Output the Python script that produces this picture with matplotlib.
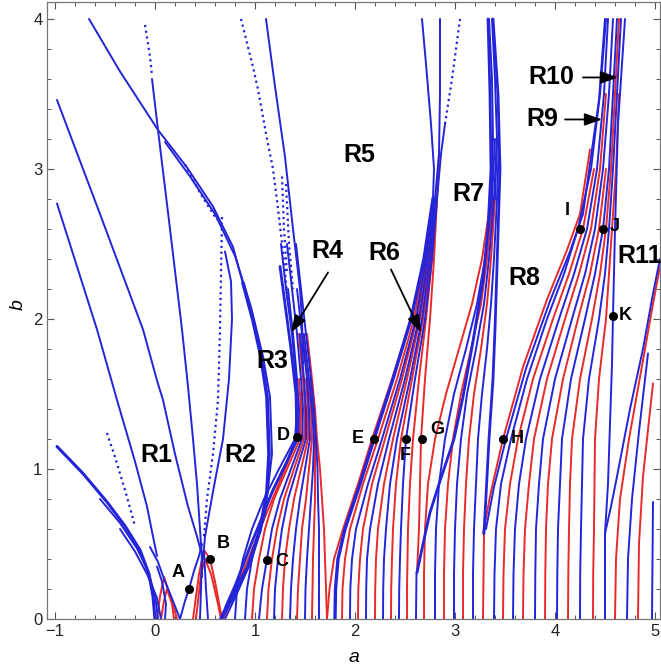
import matplotlib
matplotlib.use("Agg")
import matplotlib.pyplot as plt
from matplotlib.ticker import MultipleLocator

BLUE = "#2424d8"
RED = "#e82a2a"

# ---------------- left cluster (blue branches) ----------------
branch_LL1 = [(-0.98, 3.46), (-0.55, 2.70), (-0.12, 1.93), (0.02, 1.59), (0.08, 1.46),
              (0.20, 1.10), (0.33, 0.75), (0.42, 0.55), (0.46, 0.45)]
branch_LL2 = [(-0.98, 2.77), (-0.58, 1.93), (-0.38, 1.46), (-0.20, 1.05), (-0.08, 0.75),
              (-0.02, 0.55), (0.02, 0.42)]
branch_LL3a = [(-0.98, 1.15), (-0.72, 0.97), (-0.48, 0.78), (-0.30, 0.62), (-0.15, 0.46),
               (-0.06, 0.30), (-0.02, 0.15), (0.0, 0.0)]
branch_LL3b = [(-0.55, 0.80), (-0.35, 0.64), (-0.18, 0.47), (-0.07, 0.32), (0.0, 0.16), (0.03, 0.0)]
branch_LL3c = [(-0.35, 0.60), (-0.20, 0.45), (-0.08, 0.30), (0.02, 0.14), (0.06, 0.0)]
branch_LL_dotted = [(-0.48, 1.24), (-0.40, 1.08), (-0.30, 0.86), (-0.20, 0.62)]
branch_L1_upper = [(0.98, 1.99), (0.78, 2.48), (0.58, 2.75), (0.32, 3.01), (0.03, 3.26),
                   (-0.35, 3.65), (-0.66, 4.0)]
branch_L1_lower = [(0.66, 0.0), (0.78, 0.15), (0.93, 0.35), (1.05, 0.59), (1.12, 0.85),
                   (1.14, 1.10), (1.12, 1.48), (1.06, 1.75), (0.98, 1.99), (0.88, 2.24)]
branch_L1b = [(0.10, 3.18), (0.35, 2.95), (0.60, 2.70), (0.80, 2.42), (0.96, 2.08), (1.08, 1.75),
              (1.15, 1.48), (1.17, 1.10), (1.10, 0.70), (0.97, 0.40), (0.82, 0.17), (0.70, 0.0)]
branch_L1_dotted = [(0.30, 3.03), (0.45, 2.84), (0.62, 2.66)]
branch_L2 = [(-0.03, 3.60), (0.03, 3.26), (0.15, 2.60), (0.27, 1.93), (0.33, 1.55), (0.38, 1.20),
             (0.42, 0.90), (0.45, 0.60), (0.47, 0.40), (0.47, 0.28)]
branch_L2_dotted = [(-0.10, 3.96), (-0.05, 3.75), (-0.03, 3.62)]
branch_L3a = [(0.67, 2.68), (0.66, 2.30), (0.65, 1.93), (0.63, 1.46), (0.58, 1.10), (0.52, 0.80),
              (0.49, 0.55)]
branch_L3b = [(0.70, 2.45), (0.76, 2.25), (0.77, 2.00), (0.74, 1.60), (0.68, 1.20), (0.58, 0.85),
              (0.50, 0.55), (0.48, 0.40)]
branch_VA_right = [(0.25, 0.0), (0.30, 0.12), (0.34, 0.20), (0.39, 0.32), (0.44, 0.42), (0.47, 0.50)]
branch_VA_left = [(0.25, 0.0), (0.18, 0.12), (0.10, 0.25), (0.03, 0.38), (-0.05, 0.48)]
branch_mid_1 = [(0.45, 0.0), (0.46, 0.20), (0.47, 0.45)]
branch_mid_2 = [(0.53, 0.0), (0.51, 0.20), (0.49, 0.45)]
branch_low_1 = [(0.10, 0.0), (0.11, 0.10), (0.07, 0.25), (0.02, 0.35)]

# small red tongues near the origin
tongue_r1 = [(0.02, 0.0), (0.05, 0.15), (0.09, 0.28), (0.14, 0.18), (0.20, 0.05), (0.22, 0.0)]
tongue_r2 = [(0.06, 0.0), (0.09, 0.12), (0.12, 0.20), (0.17, 0.10), (0.19, 0.0)]
tongue_r3 = [(0.38, 0.0), (0.44, 0.30), (0.49, 0.46), (0.55, 0.40), (0.60, 0.25), (0.67, 0.0)]
tongue_r4 = [(0.41, 0.0), (0.46, 0.30), (0.50, 0.40), (0.56, 0.30), (0.63, 0.10), (0.66, 0.0)]

# ---------------- tongue between a=0.67 and a=1.72 ----------------
g3_levels = [0.0, 0.2, 0.4, 0.6, 0.8, 1.0, 1.2, 1.4, 1.6, 1.9, 2.2, 2.5]
g3_blue = [
    [0.80, 0.82, 0.88, 0.97, 1.09, 1.24, 1.40, 1.42, 1.41, 1.37, 1.31, 1.26],
    [0.90, 0.92, 0.97, 1.04, 1.14, 1.28, 1.43, 1.44, 1.42, 1.38, 1.33],
    [1.04, 1.07, 1.12, 1.17, 1.25, 1.36, 1.47, 1.48, 1.46, 1.42, 1.37, 1.32],
    [1.19, 1.20, 1.23, 1.27, 1.33, 1.42, 1.51, 1.51, 1.49, 1.45],
    [1.35, 1.36, 1.38, 1.41, 1.45, 1.50, 1.55, 1.54, 1.52, 1.47, 1.42],
    [1.50, 1.505, 1.52, 1.54, 1.56, 1.58, 1.59, 1.57, 1.54, 1.49],
    [1.64, 1.64, 1.64, 1.64, 1.63, 1.625, 1.61, 1.59, 1.56, 1.51, 1.46, 1.41],
]
g3_red = [
    [0.97, 0.99, 1.04, 1.10, 1.19, 1.32, 1.45, 1.46, 1.44],
    [1.12, 1.135, 1.17, 1.22, 1.29, 1.39, 1.49, 1.50, 1.48, 1.44],
    [1.27, 1.28, 1.30, 1.34, 1.39, 1.46, 1.53, 1.53, 1.51],
    [1.42, 1.43, 1.45, 1.47, 1.51, 1.54, 1.57, 1.56, 1.53, 1.48],
    [1.57, 1.575, 1.58, 1.59, 1.60, 1.60, 1.60, 1.58, 1.55],
    [1.72, 1.71, 1.70, 1.69, 1.67, 1.65, 1.62, 1.60, 1.57, 1.52],
]
edge_E3_blue = [(0.66, 0.0), (0.72, 0.10), (0.80, 0.22), (0.95, 0.48), (1.06, 0.66), (1.18, 0.86),
                (1.32, 1.05), (1.42, 1.21), (1.41, 1.50), (1.36, 1.80), (1.30, 2.10), (1.25, 2.35)]
edge_E3_red = [(0.68, 0.0), (0.76, 0.12), (0.92, 0.38), (1.10, 0.68), (1.30, 1.00), (1.45, 1.25),
               (1.46, 1.50)]
top_T3a = [(1.11, 4.0), (1.20, 3.55), (1.30, 3.08), (1.38, 2.60), (1.45, 2.20), (1.47, 2.00),
           (1.48, 1.70)]
top_T3b = [(0.86, 4.0), (0.98, 3.68), (1.03, 3.53), (1.12, 3.20), (1.18, 3.00), (1.22, 2.79),
           (1.28, 2.45), (1.33, 2.10)]
top_T3c = [(1.27, 2.95), (1.29, 2.60), (1.32, 2.30)]
top_T3d = [(1.31, 2.90), (1.34, 2.50), (1.38, 2.20)]

# ---------------- tongue between a=1.72 and a=2.62 ----------------
g4_levels = [0.0, 0.2, 0.4, 0.6, 0.9, 1.2, 1.6, 2.0, 2.4, 2.8]
g4_red = [
    [1.72, 1.745, 1.79, 1.88, 2.03, 2.17, 2.37, 2.56, 2.69, 2.78],
    [1.87, 1.875, 1.90, 1.95, 2.08, 2.23, 2.42, 2.59, 2.70, 2.78],
    [2.03, 2.033, 2.05, 2.08, 2.17, 2.30, 2.47, 2.62, 2.72, 2.79],
    [2.20, 2.202, 2.21, 2.23, 2.29, 2.38, 2.52, 2.65, 2.74, 2.80],
    [2.36, 2.362, 2.37, 2.38, 2.41, 2.46, 2.57, 2.68, 2.76, 2.81],
    [2.52, 2.52, 2.525, 2.53, 2.55, 2.58, 2.64, 2.71, 2.77, 2.82],
]
g4_envelope_blue = [1.80, 1.805, 1.83, 1.90, 2.05, 2.19, 2.38, 2.56, 2.69, 2.78]
g4_blue = [
    [1.95, 1.953, 1.97, 2.01, 2.13, 2.27, 2.45, 2.61, 2.71, 2.79],
    [2.11, 2.112, 2.12, 2.15, 2.23, 2.34, 2.50, 2.64, 2.73, 2.80],
    [2.28, 2.282, 2.29, 2.31, 2.35, 2.42, 2.55, 2.67, 2.75, 2.81],
    [2.44, 2.442, 2.45, 2.46, 2.48, 2.51, 2.60, 2.70, 2.77, 2.82],
]
edge_G_red = [(2.62, 0.31), (2.64, 0.60), (2.65, 0.90), (2.66, 1.20), (2.70, 1.60), (2.75, 2.00),
              (2.79, 2.40), (2.82, 2.80), (2.84, 3.10)]
stem_261 = [(2.61, 0.0), (2.615, 0.31)]
top_G4a = [(2.78, 2.80), (2.79, 3.00), (2.76, 3.30), (2.71, 3.70), (2.67, 4.0)]
top_G4b = [(2.80, 2.80), (2.84, 3.10), (2.85, 3.50), (2.85, 4.0)]
top_G4c = [(2.82, 2.80), (2.86, 3.10), (2.90, 3.30)]
top_G4_dotted = [(2.90, 3.30), (2.97, 3.60), (3.05, 4.0)]

# ---------------- tongue between a=2.62 and a=3.28 ----------------
g5_levels = [0.0, 0.3, 0.6, 0.9, 1.2, 1.5, 1.8, 2.1, 2.4, 2.8, 3.2]
g5_red = [
    [2.69, 2.69, 2.70, 2.73, 2.80, 2.91, 3.04, 3.17, 3.27, 3.36],
    [2.89, 2.89, 2.90, 2.93, 2.98, 3.06, 3.16, 3.26, 3.32, 3.38],
    [3.08, 3.08, 3.09, 3.11, 3.14, 3.19, 3.26, 3.32, 3.36, 3.40],
]
g5_blue = [
    [2.80, 2.80, 2.81, 2.84, 2.90, 2.99, 3.11, 3.22, 3.30, 3.37, 3.40],
    [2.99, 2.99, 3.00, 3.02, 3.06, 3.12, 3.21, 3.29, 3.34, 3.39, 3.42],
    [3.18, 3.18, 3.19, 3.21, 3.23, 3.27, 3.32, 3.36, 3.39, 3.42, 3.44],
]
edge_E5 = [(2.62, 0.31), (2.68, 0.50), (2.75, 0.71), (2.85, 0.92), (2.99, 1.20), (3.08, 1.48),
           (3.18, 1.85), (3.28, 2.26), (3.33, 2.60), (3.36, 3.00), (3.35, 3.50), (3.33, 4.0)]
edge_R5 = [(3.29, 0.57), (3.31, 0.82), (3.34, 1.20), (3.38, 1.60), (3.40, 1.93), (3.42, 2.35),
           (3.45, 3.00), (3.43, 3.50), (3.38, 4.0)]
top_G5a = [(3.36, 2.80), (3.38, 3.20), (3.37, 3.60), (3.34, 4.0)]
top_G5b = [(3.40, 2.80), (3.42, 3.20), (3.40, 3.60), (3.37, 4.0)]
stem_328 = [(3.28, 0.0), (3.29, 0.57)]

# ---------------- tongue between a=3.28 and a=4.50 ----------------
g6_levels = [0.0, 0.3, 0.6, 0.9, 1.2, 1.6, 2.0, 2.3, 2.6, 3.0, 3.5, 4.0]
g6_blue = [
    [3.39, 3.395, 3.41, 3.46, 3.56, 3.72, 3.92, 4.09, 4.23, 4.36, 4.45, 4.51],
    [3.58, 3.585, 3.60, 3.64, 3.71, 3.85, 4.04, 4.19, 4.32, 4.42, 4.49, 4.53],
    [3.80, 3.803, 3.81, 3.84, 3.88, 4.00, 4.17, 4.30, 4.40, 4.48, 4.54, 4.58],
    [4.02, 4.023, 4.03, 4.05, 4.07, 4.16, 4.30, 4.40, 4.48, 4.54, 4.58, 4.62],
    [4.25, 4.252, 4.26, 4.27, 4.28, 4.34, 4.44, 4.50, 4.54, 4.58, 4.62, 4.66],
]
g6_red = [
    [3.48, 3.485, 3.50, 3.55, 3.63, 3.78, 3.98, 4.14, 4.28, 4.39],
    [3.68, 3.685, 3.70, 3.74, 3.79, 3.92, 4.10, 4.24, 4.36, 4.45, 4.51],
    [3.90, 3.903, 3.91, 3.93, 3.97, 4.08, 4.23, 4.35, 4.44, 4.51],
    [4.13, 4.133, 4.14, 4.15, 4.17, 4.25, 4.37, 4.45, 4.51, 4.56, 4.60, 4.64],
    [4.38, 4.382, 4.39, 4.395, 4.40, 4.44, 4.51, 4.54, 4.57, 4.61, 4.64],
]
edge_E6_red = [(3.28, 0.57), (3.36, 0.85), (3.48, 1.20), (3.68, 1.68), (3.92, 2.13), (4.12, 2.46),
               (4.25, 2.70), (4.35, 3.13)]
edge_E6_blue = [(3.31, 0.60), (3.39, 0.88), (3.51, 1.20), (3.71, 1.67), (3.95, 2.12), (4.15, 2.45),
                (4.28, 2.70), (4.37, 3.13), (4.44, 3.46), (4.50, 4.0)]
edge_K = [(4.50, 0.0), (4.50, 0.57), (4.53, 0.90), (4.55, 1.30), (4.57, 1.70), (4.58, 2.02),
          (4.60, 2.60), (4.63, 3.30), (4.70, 4.0)]

# ---------------- tongue beyond a=4.50 ----------------
g7_blue = [
    [(4.50, 0.57), (4.56, 0.75), (4.62, 0.95), (4.75, 1.40), (4.88, 1.80), (4.98, 2.17), (5.05, 2.40)],
    [(4.72, 0.0), (4.73, 0.40), (4.77, 0.80), (4.84, 1.25), (4.93, 1.77)],
    [(4.97, 0.0), (4.98, 0.78)],
]
g7_red = [
    [(4.60, 0.0), (4.61, 0.40), (4.65, 0.80), (4.74, 1.20), (4.86, 1.65), (4.98, 2.10), (5.05, 2.35)],
    [(4.83, 0.0), (4.84, 0.50), (4.88, 0.95), (4.98, 1.57)],
]

# ---------------- annotations ----------------
region_names = ["R1", "R2", "R3", "R4", "R5", "R6", "R7", "R8", "R9", "R10"]
region_a = [0.01, 0.85, 1.17, 1.725, 2.04, 2.29, 3.13, 3.69, 3.87, 3.96]
region_b = [1.09, 1.09, 1.72, 2.45, 3.09, 2.44, 2.83, 2.27, 3.33, 3.61]

point_names = ["A", "B", "C", "D", "E", "F", "G", "H", "I", "J", "K"]
point_a = [0.34, 0.55, 1.12, 1.42, 2.19, 2.51, 2.67, 3.48, 4.25, 4.48, 4.58]
point_b = [0.20, 0.40, 0.39, 1.21, 1.20, 1.20, 1.20, 1.20, 2.60, 2.60, 2.02]
point_label_a = [0.23, 0.68, 1.27, 1.28, 2.03, 2.50, 2.82, 3.62, 4.12, 4.60, 4.70]
point_label_b = [0.31, 0.50, 0.38, 1.22, 1.20, 1.09, 1.265, 1.20, 2.72, 2.615, 2.02]

arrow_tail = [(1.73, 2.31), (2.36, 2.33), (4.10, 3.33), (4.28, 3.61)]
arrow_head = [(1.36, 1.91), (2.66, 1.91), (4.47, 3.33), (4.63, 3.61)]

fig = plt.figure(figsize=(6.61, 6.70), dpi=100)
ax = fig.add_axes([47.3 / 661, 51 / 670, 612.7 / 661, 617 / 670])


def draw(pts, color, lw=1.4, ls="-"):
    ax.plot([p[0] for p in pts], [p[1] for p in pts], color=color, lw=lw, ls=ls,
            solid_capstyle="round", solid_joinstyle="round")


def draw_rows(levels, rows, color, lw=1.4):
    for row in rows:
        ax.plot(row, levels[:len(row)], color=color, lw=lw,
                solid_capstyle="round", solid_joinstyle="round")


# red curves first
for c in (tongue_r1, tongue_r2, tongue_r3, tongue_r4, edge_E3_red, edge_G_red, edge_E6_red,
          stem_328):
    draw(c, RED)
draw_rows(g3_levels, g3_red, RED)
draw_rows(g4_levels, g4_red, RED)
draw_rows(g5_levels, g5_red, RED)
draw_rows(g6_levels, g6_red, RED)
for c in g7_red:
    draw(c, RED)

# blue curves on top
for c in (branch_LL1, branch_LL2, branch_LL3b, branch_LL3c, branch_L2, branch_L3b,
          branch_VA_right, branch_VA_left, branch_mid_1, branch_mid_2, branch_low_1,
          branch_L1b, branch_L1_upper, top_T3a, top_G4a, top_G4b, top_G4c, top_G5a, top_G5b,
          edge_E6_blue, edge_K, stem_261):
    draw(c, BLUE)
draw(branch_LL3a, BLUE, lw=2.2)
draw(branch_L1_lower, BLUE, lw=2.6)
draw(edge_E3_blue, BLUE, lw=2.0)
draw(edge_E5, BLUE, lw=2.0)
draw(edge_R5, BLUE, lw=2.0)
for c in (branch_LL_dotted, branch_L1_dotted, branch_L2_dotted, branch_L3a, top_T3b, top_T3c,
          top_T3d, top_G4_dotted):
    draw(c, BLUE, lw=1.6, ls=(0, (1, 1.6)))
draw_rows(g3_levels, g3_blue, BLUE)
ax.plot(g4_envelope_blue, g4_levels, color=BLUE, lw=2.4, solid_joinstyle="round")
draw_rows(g4_levels, g4_blue, BLUE)
draw_rows(g5_levels, g5_blue, BLUE)
draw_rows(g6_levels, g6_blue, BLUE)
for c in g7_blue:
    draw(c, BLUE)

# labels
for name, a, b in zip(region_names, region_a, region_b):
    ax.text(a, b, name, fontsize=18, fontweight="bold", ha="center", va="center",
            family="Liberation Sans")
ax.text(4.62, 2.42, "R11", fontsize=18, fontweight="bold", ha="left", va="center",
        family="Liberation Sans", clip_on=False)

ax.plot(point_a, point_b, "o", color="black", ms=5.5, zorder=5)
for name, a, b in zip(point_names, point_label_a, point_label_b):
    ax.text(a, b, name, fontsize=13, fontweight="bold", ha="center", va="center",
            family="Liberation Sans", zorder=6)

for tail, head in zip(arrow_tail, arrow_head):
    ax.annotate("", xy=head, xytext=tail,
                arrowprops=dict(arrowstyle="-|>,head_length=0.7,head_width=0.25",
                                color="black", lw=1.3, shrinkA=0, shrinkB=0,
                                mutation_scale=15))

ax.set_xlim(-1.077, 5.05)
ax.set_ylim(0, 4.113)
ax.xaxis.set_major_locator(MultipleLocator(1))
ax.xaxis.set_minor_locator(MultipleLocator(0.2))
ax.yaxis.set_major_locator(MultipleLocator(1))
ax.yaxis.set_minor_locator(MultipleLocator(0.2))
ax.tick_params(which="both", direction="in", top=True, right=True, colors="#555555",
               labelcolor="#222222", labelsize=12)
ax.tick_params(which="major", length=5, width=0.8)
ax.tick_params(which="minor", length=3, width=0.7)
for lab in ax.get_xticklabels() + ax.get_yticklabels():
    lab.set_family("Liberation Sans")
for s in ax.spines.values():
    s.set_color("#777777")
    s.set_linewidth(0.9)

ax.text(0.5, -0.063, "a", transform=ax.transAxes, ha="center", va="center",
        fontsize=14, style="italic", family="Liberation Sans")
ax.text(-0.048, 0.509, "b", transform=ax.transAxes, ha="center", va="center",
        fontsize=14, style="italic", rotation=90, family="Liberation Sans")

fig.savefig("out.png", dpi=100)
